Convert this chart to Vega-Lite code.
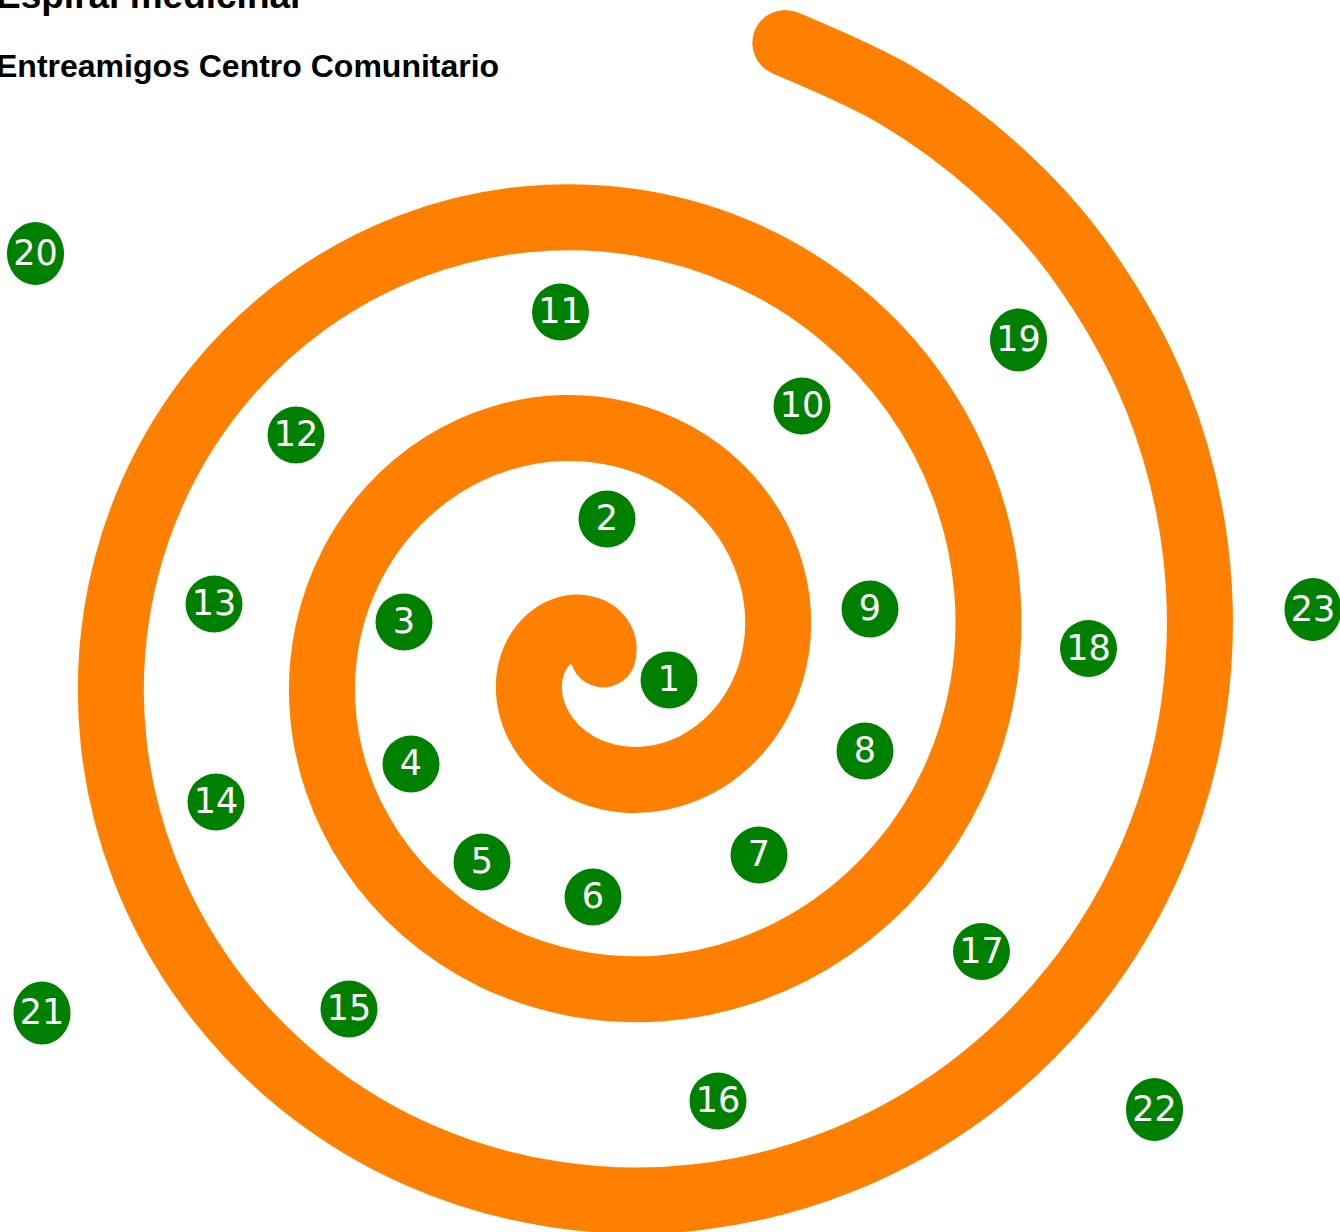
{
  "$schema": "https://vega.github.io/schema/vega-lite/v6.json",
  "width": 1340,
  "height": 1232,
  "autosize": {"type": "none"},
  "padding": 0,
  "background": "white",
  "title": {
    "text": "Espiral medicinal",
    "subtitle": "Entreamigos Centro Comunitario",
    "anchor": "start",
    "frame": "group",
    "font": "Liberation Sans",
    "fontSize": 37,
    "fontWeight": "bold",
    "color": "#000000",
    "subtitleFont": "Liberation Sans",
    "subtitleFontSize": 32,
    "subtitleFontWeight": "bold",
    "subtitleColor": "#000000",
    "subtitlePadding": 36,
    "dx": -4,
    "dy": 88
  },
  "config": {"view": {"stroke": null}},
  "datasets": {
    "spiral": [
      {"i": 1, "x": 0.6, "y": 1.6},
      {"i": 2, "x": 0.9, "y": 10.5},
      {"i": 3, "x": -3.4, "y": 19.1},
      {"i": 4, "x": -11.9, "y": 25.6},
      {"i": 5, "x": -23.8, "y": 28.4},
      {"i": 6, "x": -37.6, "y": 26.3},
      {"i": 7, "x": -51.4, "y": 18.7},
      {"i": 8, "x": -63.3, "y": 5.5},
      {"i": 9, "x": -71.3, "y": -12.6},
      {"i": 10, "x": -73.6, "y": -34.3},
      {"i": 11, "x": -69.0, "y": -57.9},
      {"i": 12, "x": -56.7, "y": -81.0},
      {"i": 13, "x": -36.8, "y": -101.2},
      {"i": 14, "x": -10.2, "y": -116.1},
      {"i": 15, "x": 21.8, "y": -123.5},
      {"i": 16, "x": 56.7, "y": -121.6},
      {"i": 17, "x": 92.0, "y": -109.6},
      {"i": 18, "x": 124.4, "y": -87.1},
      {"i": 19, "x": 151.0, "y": -55.0},
      {"i": 20, "x": 168.9, "y": -14.8},
      {"i": 21, "x": 175.7, "y": 31.0},
      {"i": 22, "x": 169.7, "y": 79.1},
      {"i": 23, "x": 150.2, "y": 126.0},
      {"i": 24, "x": 117.5, "y": 167.9},
      {"i": 25, "x": 73.1, "y": 200.8},
      {"i": 26, "x": 19.4, "y": 221.7},
      {"i": 27, "x": -40.2, "y": 227.9},
      {"i": 28, "x": -101.5, "y": 217.7},
      {"i": 29, "x": -160.1, "y": 190.8},
      {"i": 30, "x": -211.3, "y": 147.9},
      {"i": 31, "x": -250.6, "y": 91.2},
      {"i": 32, "x": -274.5, "y": 24.0},
      {"i": 33, "x": -280.1, "y": -49.4},
      {"i": 34, "x": -265.8, "y": -123.9},
      {"i": 35, "x": -231.4, "y": -194.2},
      {"i": 36, "x": -178.3, "y": -254.7},
      {"i": 37, "x": -109.4, "y": -300.5},
      {"i": 38, "x": -28.7, "y": -327.3},
      {"i": 39, "x": 58.6, "y": -332.3},
      {"i": 40, "x": 146.3, "y": -313.8},
      {"i": 41, "x": 228.2, "y": -272.0},
      {"i": 42, "x": 298.1, "y": -208.7},
      {"i": 43, "x": 350.3, "y": -127.5},
      {"i": 44, "x": 380.1, "y": -33.3},
      {"i": 45, "x": 384.5, "y": 67.8},
      {"i": 46, "x": 361.8, "y": 168.7},
      {"i": 47, "x": 312.6, "y": 262.3},
      {"i": 48, "x": 239.1, "y": 341.5},
      {"i": 49, "x": 145.6, "y": 400.1},
      {"i": 50, "x": 37.9, "y": 432.9},
      {"i": 51, "x": -77.0, "y": 436.7},
      {"i": 52, "x": -191.1, "y": 409.9},
      {"i": 53, "x": -296.4, "y": 353.2},
      {"i": 54, "x": -384.9, "y": 269.5},
      {"i": 55, "x": -449.9, "y": 163.7},
      {"i": 56, "x": -485.7, "y": 42.5},
      {"i": 57, "x": -488.9, "y": -86.2},
      {"i": 58, "x": -457.9, "y": -213.5},
      {"i": 59, "x": -393.8, "y": -330.4},
      {"i": 60, "x": -299.9, "y": -428.4},
      {"i": 61, "x": -181.9, "y": -499.7},
      {"i": 62, "x": -47.1, "y": -538.5},
      {"i": 63, "x": 95.4, "y": -541.1},
      {"i": 64, "x": 235.9, "y": -505.9},
      {"i": 65, "x": 364.5, "y": -434.4},
      {"i": 66, "x": 471.8, "y": -330.3},
      {"i": 67, "x": 549.5, "y": -200.0},
      {"i": 68, "x": 591.3, "y": -51.8},
      {"i": 69, "x": 593.2, "y": 104.6},
      {"i": 70, "x": 554.0, "y": 258.3},
      {"i": 71, "x": 475.0, "y": 398.6},
      {"i": 72, "x": 393.2, "y": 487.8},
      {"i": 73, "x": 294.6, "y": 560.4},
      {"i": 74, "x": 182.8, "y": 613.1}
    ],
    "medicine": [
      {"n": 1, "x": 66.5, "y": -24},
      {"n": 2, "x": 4.5, "y": 137},
      {"n": 3, "x": -198.5, "y": 34},
      {"n": 4, "x": -191.5, "y": -108},
      {"n": 5, "x": -120.5, "y": -206},
      {"n": 6, "x": -9.5, "y": -241},
      {"n": 7, "x": 156.5, "y": -199},
      {"n": 8, "x": 262.5, "y": -95},
      {"n": 9, "x": 267.5, "y": 47},
      {"n": 10, "x": 199.5, "y": 250},
      {"n": 11, "x": -42, "y": 344},
      {"n": 12, "x": -306.5, "y": 221},
      {"n": 13, "x": -388.5, "y": 52},
      {"n": 14, "x": -386.5, "y": -146},
      {"n": 15, "x": -253.5, "y": -353},
      {"n": 16, "x": 115.5, "y": -445},
      {"n": 17, "x": 379, "y": -295.5},
      {"n": 18, "x": 486, "y": 7.5},
      {"n": 19, "x": 416, "y": 316},
      {"n": 20, "x": -567, "y": 402.5},
      {"n": 21, "x": -560.5, "y": -357},
      {"n": 22, "x": 552, "y": -453.5},
      {"n": 23, "x": 710.5, "y": 46.5}
    ]
  },
  "encoding": {
    "x": {"field": "x", "type": "quantitative", "scale": {"domain": [-602.5, 737.5], "nice": false, "zero": false}, "axis": null},
    "y": {"field": "y", "type": "quantitative", "scale": {"domain": [-576, 656], "nice": false, "zero": false}, "axis": null}
  },
  "layer": [
    {
      "data": {"name": "spiral"},
      "mark": {"type": "line", "color": "#ff7f00", "strokeWidth": 66, "strokeCap": "round", "strokeJoin": "round", "interpolate": "catmull-rom", "clip": false},
      "encoding": {"order": {"field": "i", "type": "quantitative"}}
    },
    {
      "data": {"name": "medicine"},
      "mark": {"type": "point", "filled": true, "color": "#008000", "opacity": 1, "size": 3249},
      "encoding": {
        "shape": {
          "condition": {"test": "datum.n >= 19", "value": "M 0 -1.105 C 0.5523 -1.105 1 -0.6103 1 0 C 1 0.6103 0.5523 1.105 0 1.105 C -0.5523 1.105 -1 0.6103 -1 0 C -1 -0.6103 -0.5523 -1.105 0 -1.105 Z"},
          "value": "circle"
        }
      }
    },
    {
      "data": {"name": "medicine"},
      "mark": {"type": "text", "color": "#ffffff", "font": "DejaVu Sans", "fontSize": 35, "baseline": "middle", "align": "center"},
      "encoding": {"text": {"field": "n", "type": "nominal"}}
    }
  ]
}
